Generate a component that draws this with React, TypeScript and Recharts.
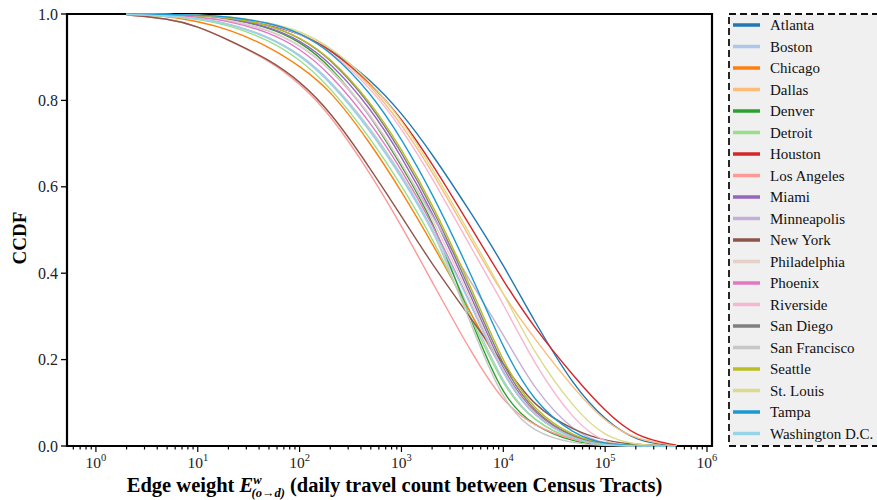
import { LineChart, Line, XAxis, YAxis, ReferenceArea } from "recharts";

// edge weight sample points (daily travel count)
const weights = [2, 5, 10, 20, 50, 100, 200, 500, 1000, 2000, 5000, 10000, 20000, 50000, 100000, 200000, 500000];

// CCDF at each weight above
const atlanta = [1.0, 0.998, 0.996, 0.991, 0.976, 0.955, 0.92, 0.848, 0.772, 0.677, 0.534, 0.42, 0.29, 0.135, 0.06, 0.01, 0];
const boston = [0.999, 0.996, 0.99, 0.978, 0.946, 0.905, 0.844, 0.729, 0.622, 0.504, 0.3, 0.14, 0.055, 0.011, 0.002, 0, 0];
const chicago = [1.0, 0.995, 0.983, 0.965, 0.925, 0.88, 0.825, 0.7, 0.59, 0.47, 0.3, 0.17, 0.07, 0.018, 0.005, 0.001, 0];
const dallas = [1.0, 0.999, 0.997, 0.993, 0.979, 0.957, 0.919, 0.836, 0.745, 0.637, 0.47, 0.348, 0.25, 0.13, 0.055, 0.014, 0.001];
const denver = [1.0, 0.999, 0.996, 0.99, 0.969, 0.937, 0.881, 0.765, 0.648, 0.53, 0.28, 0.11, 0.045, 0.008, 0.001, 0, 0];
const detroit = [0.999, 0.995, 0.988, 0.975, 0.94, 0.896, 0.831, 0.712, 0.603, 0.484, 0.29, 0.135, 0.055, 0.011, 0.002, 0, 0];
const houston = [1.0, 0.999, 0.997, 0.992, 0.977, 0.955, 0.919, 0.841, 0.758, 0.655, 0.5, 0.382, 0.274, 0.159, 0.08, 0.02, 0.002];
const losAngeles = [0.998, 0.99, 0.972, 0.94, 0.893, 0.84, 0.768, 0.63, 0.51, 0.38, 0.21, 0.1, 0.045, 0.012, 0.004, 0.001, 0];
const miami = [1.0, 0.999, 0.996, 0.99, 0.971, 0.94, 0.889, 0.782, 0.67, 0.544, 0.34, 0.17, 0.07, 0.015, 0.003, 0, 0];
const minneapolis = [1.0, 0.999, 0.994, 0.987, 0.963, 0.929, 0.875, 0.765, 0.655, 0.535, 0.37, 0.26, 0.13, 0.03, 0.004, 0, 0];
const newYork = [0.998, 0.99, 0.972, 0.94, 0.895, 0.845, 0.775, 0.641, 0.532, 0.42, 0.29, 0.19, 0.09, 0.035, 0.012, 0.003, 0];
const philadelphia = [1.0, 0.998, 0.995, 0.987, 0.965, 0.93, 0.876, 0.77, 0.655, 0.53, 0.33, 0.165, 0.068, 0.014, 0.003, 0, 0];
const phoenix = [0.999, 0.998, 0.993, 0.984, 0.958, 0.921, 0.862, 0.749, 0.64, 0.517, 0.32, 0.16, 0.065, 0.014, 0.003, 0, 0];
const riverside = [1.0, 0.998, 0.997, 0.992, 0.978, 0.955, 0.915, 0.829, 0.736, 0.622, 0.452, 0.33, 0.19, 0.055, 0.005, 0, 0];
const sanDiego = [1.0, 0.999, 0.997, 0.992, 0.975, 0.946, 0.898, 0.792, 0.68, 0.555, 0.35, 0.18, 0.075, 0.017, 0.004, 0.001, 0];
const sanFrancisco = [0.999, 0.996, 0.99, 0.979, 0.948, 0.908, 0.848, 0.736, 0.629, 0.512, 0.27, 0.1, 0.03, 0.005, 0.001, 0, 0];
const seattle = [1.0, 0.999, 0.997, 0.992, 0.975, 0.947, 0.9, 0.797, 0.688, 0.563, 0.36, 0.19, 0.08, 0.02, 0.005, 0.001, 0];
const stLouis = [1.0, 0.999, 0.998, 0.994, 0.981, 0.961, 0.925, 0.844, 0.755, 0.645, 0.48, 0.355, 0.215, 0.085, 0.02, 0.002, 0];
const tampa = [1.0, 0.999, 0.998, 0.994, 0.98, 0.957, 0.915, 0.818, 0.712, 0.587, 0.39, 0.225, 0.1, 0.025, 0.004, 0, 0];
const washington = [0.999, 0.996, 0.99, 0.978, 0.947, 0.907, 0.846, 0.731, 0.625, 0.508, 0.32, 0.16, 0.065, 0.013, 0.002, 0, 0];

const cities = [
  { name: "Atlanta", values: atlanta, color: "#1f77b4" },
  { name: "Boston", values: boston, color: "#aec7e8" },
  { name: "Chicago", values: chicago, color: "#ff7f0e" },
  { name: "Dallas", values: dallas, color: "#ffbb78" },
  { name: "Denver", values: denver, color: "#2ca02c" },
  { name: "Detroit", values: detroit, color: "#98df8a" },
  { name: "Houston", values: houston, color: "#d62728" },
  { name: "Los Angeles", values: losAngeles, color: "#ff9896" },
  { name: "Miami", values: miami, color: "#9467bd" },
  { name: "Minneapolis", values: minneapolis, color: "#c5b0d5" },
  { name: "New York", values: newYork, color: "#8c564b" },
  { name: "Philadelphia", values: philadelphia, color: "#e5d0ca" },
  { name: "Phoenix", values: phoenix, color: "#e377c2" },
  { name: "Riverside", values: riverside, color: "#f7b6d2" },
  { name: "San Diego", values: sanDiego, color: "#7f7f7f" },
  { name: "San Francisco", values: sanFrancisco, color: "#c7c7c7" },
  { name: "Seattle", values: seattle, color: "#bcbd22" },
  { name: "St. Louis", values: stLouis, color: "#dbdb8d" },
  { name: "Tampa", values: tampa, color: "#1b9ad2" },
  { name: "Washington D.C.", values: washington, color: "#96d4ea" },
];

const majorTicks = [1, 10, 100, 1000, 10000, 100000, 1000000];
const majorExponents = ["0", "1", "2", "3", "4", "5", "6"];
const yTicks = [0, 0.2, 0.4, 0.6, 0.8, 1.0];
const xDomain = [0.52, 1.12e6];

const minorTicks: number[] = [];
for (let e = -1; e < 6; e++) {
  for (let m = 2; m <= 9; m++) {
    const v = m * Math.pow(10, e);
    if (v > xDomain[0] && v < xDomain[1]) minorTicks.push(v);
  }
}

const rows = weights.map((w, i) => {
  const row: Record<string, number> = { w };
  cities.forEach((c) => (row[c.name] = c.values[i]));
  return row;
});

const FONT = "'Liberation Serif', serif";

function XTick(props: any) {
  const { x, y, payload } = props;
  const idx = majorTicks.indexOf(payload.value);
  const major = idx >= 0;
  return (
    <g>
      <line x1={x} x2={x} y1={y} y2={y + (major ? 6 : 3.5)} stroke="#000" strokeWidth={1.2} />
      {major && (
        <text x={x} y={y + 22} textAnchor="middle" fontFamily={FONT} fontSize={15.5} fill="#222">
          10
          <tspan dy={-7} fontSize={10.5}>
            {majorExponents[idx]}
          </tspan>
        </text>
      )}
    </g>
  );
}

function XLabel(props: any) {
  const vb = props.viewBox;
  const cx = vb.x + vb.width / 2 + 5;
  return (
    <text x={cx} y={vb.y + 46} textAnchor="middle" fontFamily={FONT} fontWeight="bold" fontSize={20.5} fill="#000">
      Edge weight{" "}
      <tspan fontStyle="italic">E</tspan>
      <tspan dy={-8} fontSize={12.5} fontStyle="italic">w</tspan>
      <tspan dy={13} dx={-10} fontSize={12.5} fontStyle="italic">(o→d)</tspan>
      <tspan dy={-5}> (daily travel count between Census Tracts)</tspan>
    </text>
  );
}

function YLabel(props: any) {
  const vb = props.viewBox;
  const cy = vb.y + vb.height / 2 + 8;
  return (
    <text
      x={19}
      y={cy}
      transform={`rotate(-90, 19, ${cy})`}
      textAnchor="middle"
      dominantBaseline="central"
      fontFamily={FONT}
      fontWeight="bold"
      fontSize={19}
      fill="#000"
    >
      CCDF
    </text>
  );
}

function LegendBox() {
  const rowGap = 21.5;
  return (
    <svg width={149} height={434} style={{ position: "absolute", left: 728, top: 13 }}>
      <rect x={1} y={1} width={200} height={432} fill="#f0f0f0" stroke="#111" strokeWidth={1.8} strokeDasharray="7 4" />
      {cities.map((c, i) => {
        const cy = 12 + i * rowGap;
        return (
          <g key={c.name}>
            <line x1={5} x2={32} y1={cy} y2={cy} stroke={c.color} strokeWidth={3.5} />
            <text x={42} y={cy + 5} fontFamily={FONT} fontSize={15} fill="#111">
              {c.name}
            </text>
          </g>
        );
      })}
    </svg>
  );
}

export default function App() {
  return (
    <div style={{ position: "absolute", left: 0, top: 0, width: 877, height: 500, background: "#fff" }}>
      <LineChart width={877} height={500} data={rows} margin={{ top: 14, right: 165, left: 0, bottom: 0 }}>
        <XAxis
          dataKey="w"
          type="number"
          scale="log"
          domain={xDomain}
          allowDataOverflow
          ticks={[...majorTicks, ...minorTicks]}
          interval={0}
          tick={<XTick />}
          tickLine={false}
          tickSize={0}
          tickMargin={0}
          axisLine={false}
          height={54}
          label={<XLabel />}
        />
        <YAxis
          type="number"
          domain={[0, 1]}
          ticks={yTicks}
          tickFormatter={(v: number) => v.toFixed(1)}
          tick={{ fontFamily: FONT, fontSize: 16, fill: "#222" }}
          tickLine={{ stroke: "#000", strokeWidth: 1.3 }}
          tickSize={6}
          tickMargin={3}
          axisLine={false}
          width={67}
          label={<YLabel />}
        />
        {cities.map((c) => (
          <Line
            key={c.name}
            dataKey={c.name}
            type="basis"
            stroke={c.color}
            strokeWidth={1.4}
            dot={false}
            isAnimationActive={false}
          />
        ))}
        <ReferenceArea x1={xDomain[0]} x2={xDomain[1]} y1={0} y2={1} fill="none" stroke="#000" strokeWidth={2.2} ifOverflow="visible" />
      </LineChart>
      <LegendBox />
    </div>
  );
}
